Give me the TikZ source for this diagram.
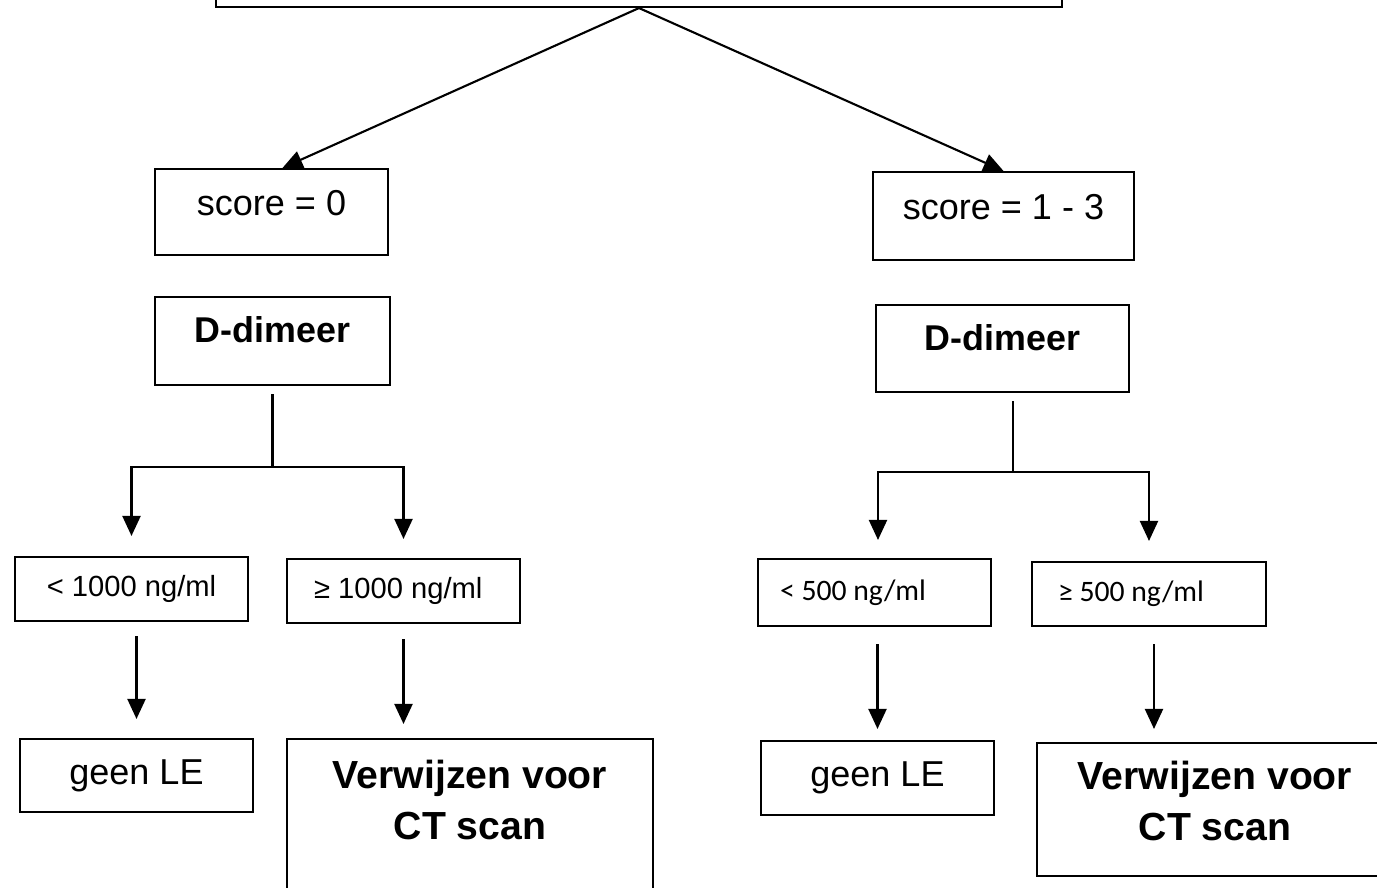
\documentclass[tikz,border=0pt]{standalone}
\usepackage{fontspec}
\setmainfont{Liberation Sans}
\newfontfamily\narrowfont{Carlito}
\usepackage{tikz}
\usetikzlibrary{arrows.meta}
\tikzset{
  box/.style  = {draw, line width=1.2pt, inner sep=0pt, align=center,
                 font=\fontsize{20.5}{26}\selectfont},
  bbox/.style = {box, font=\fontsize{22.3}{29}\selectfont\bfseries},
  small/.style = {box, font=\fontsize{16.6}{20}\selectfont},
  narrow/.style = {box, font=\narrowfont\fontsize{16.9}{20}\selectfont},
  lift/.style = {text depth=#1},
  arr/.style  = {line width=1.2pt, -{Triangle[length=0.4cm, width=0.36cm]}},
  ln/.style   = {line width=1.2pt}
}
\begin{document}
\begin{tikzpicture}[x=0.02cm, y=-0.02cm]
\useasboundingbox (0,0) rectangle (1377,888);
\clip (0,0) rectangle (1377,888);
% top box (cut off)
\node[box, minimum width=16.92cm, minimum height=1.2cm] (top) at (639,-23) {};
% scores
\node[box, minimum width=4.66cm, minimum height=1.72cm, lift=0.36cm] (score0) at (271.5,212) {score = 0};
\node[box, minimum width=5.22cm, minimum height=1.76cm, lift=0.36cm] (score13) at (1003.5,216) {score = 1 - 3};
\draw[arr] (top.south) -- ([xshift=0.22cm]score0.north);
\draw[arr] (top.south) -- (score13.north);
% D-dimeer
\node[box, font=\fontsize{20.4}{26}\selectfont\bfseries, minimum width=4.7cm, minimum height=1.76cm, lift=0.44cm] (ddL) at (272.5,341) {D-dimeer};
\node[box, font=\fontsize{20.4}{26}\selectfont\bfseries, minimum width=5.06cm, minimum height=1.74cm, lift=0.44cm] (ddR) at (1002.5,348.5) {D-dimeer};
% thresholds
\node[small, minimum width=4.66cm, minimum height=1.28cm] (lowL) at (131.5,589) {< 1000 ng/ml};
\node[small, minimum width=4.66cm, minimum height=1.28cm] (highL) at (403.5,591) {\makebox[3.58cm][l]{≥ 1000 ng/ml}};
\node[narrow, minimum width=4.66cm, minimum height=1.34cm] (lowR) at (874.5,592.5) {\makebox[3.78cm][l]{< 500 ng/ml}};
\node[narrow, minimum width=4.68cm, minimum height=1.28cm] (highR) at (1149,594) {\makebox[3.64cm][l]{≥ 500 ng/ml}};
% branches
\draw[ln] ([yshift=-0.16cm]ddL.south) -- ++(0,73) coordinate (forkL);
\draw[arr, shorten >=0.4cm] (forkL) -| (lowL.north);
\draw[arr, shorten >=0.38cm] (forkL) -| (highL.north);
\draw[ln] ([xshift=0.21cm, yshift=-0.16cm]ddR.south) -- ++(0,71) coordinate (forkR);
\draw[arr, shorten >=0.36cm] (forkR) -| ([xshift=0.07cm]lowR.north);
\draw[arr, shorten >=0.4cm] (forkR) -| (highR.north);
% outcomes
\node[box, minimum width=4.66cm, minimum height=1.46cm, lift=0.12cm] (geenL) at (136.5,775.5) {geen LE};
\node[bbox, minimum width=7.32cm, minimum height=3.22cm, lift=0.78cm] (verL) at (470,819.5) {Verwijzen voor\\CT scan};
\node[box, minimum width=4.66cm, minimum height=1.48cm] (geenR) at (877.5,778) {geen LE};
\node[bbox, minimum width=7.12cm, minimum height=2.66cm, lift=0.34cm] (verR) at (1215,809.5) {Verwijzen voor\\CT scan};
\draw[arr, shorten <=0.28cm, shorten >=0.38cm] (lowL.south -| geenL.north) -- (geenL.north);
\draw[arr, shorten <=0.3cm, shorten >=0.28cm] (highL.south) -- (highL.south |- verL.north);
\draw[arr, shorten <=0.34cm, shorten >=0.22cm] (lowR.south -| geenR.north) -- (geenR.north);
\draw[arr, shorten <=0.34cm, shorten >=0.26cm] ([xshift=0.1cm]highR.south) -- ([xshift=0.1cm]highR.south |- verR.north);
\end{tikzpicture}
\end{document}
